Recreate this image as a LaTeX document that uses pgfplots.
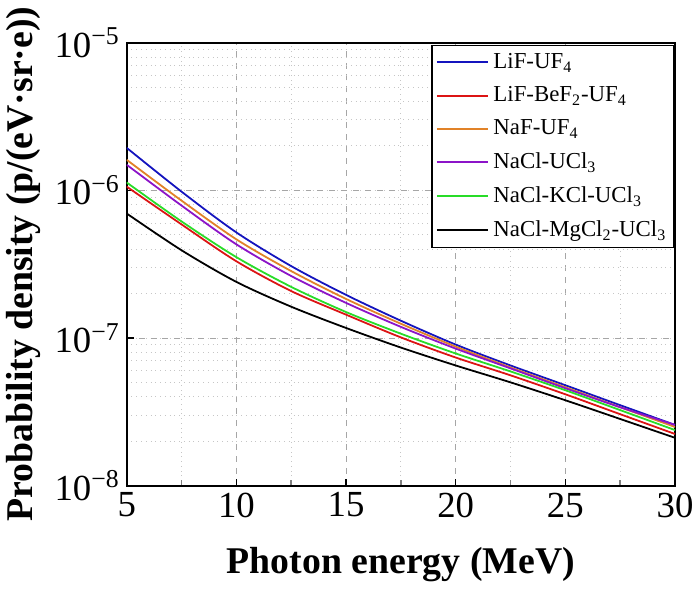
\documentclass[border=0pt]{standalone}
\usepackage{pgfplots}
\pgfplotsset{compat=1.18}
\usepackage{fontspec}
\setmainfont{Liberation Serif}
\definecolor{cblue}{RGB}{20,20,190}
\definecolor{cred}{RGB}{220,20,20}
\definecolor{corange}{RGB}{225,130,40}
\definecolor{cpurple}{RGB}{140,20,200}
\definecolor{cgreen}{RGB}{40,220,40}
\begin{document}
\begin{tikzpicture}
\begin{axis}[
  name=ax,
  scale only axis,
  width=276pt, height=223pt,
  ymode=log,
  xmin=5, xmax=30, ymin=1e-8, ymax=1e-5,
  axis line style={line width=1pt},
  xtick={5,10,15,20,25,30},
  xticklabels={5,10,15,20,25,30},
  minor xtick={7.5,12.5,17.5,22.5,27.5},
  ytick={1e-8,1e-7,1e-6,1e-5},
  yticklabels={10\textsuperscript{−8},10\textsuperscript{−7},10\textsuperscript{−6},10\textsuperscript{−5}},
  xtick pos=left, ytick pos=left,
  tick align=inside,
  major tick length=3.5pt,
  minor x tick style={line width=0.8pt},
  major tick style={line width=0.8pt, black},
  every minor y tick/.style={draw=none},
  grid=both,
  major grid style={dashed, gray!70, line width=0.5pt},
  minor grid style={dotted, gray!45, line width=0.5pt},
  ticklabel style={font=\fontsize{18.5}{21}\selectfont},
  xlabel={\textbf{Photon energy (MeV)}},
  ylabel={\textbf{Probability density (p/(eV·sr·e))}},
  label style={font=\fontsize{19}{22}\selectfont},
  xlabel style={yshift=-8pt},
  legend style={at={(1,1)}, anchor=north east, yshift=-1pt, draw=black, line width=0.8pt,
    font=\fontsize{11.5}{13}\selectfont, row sep=3.6pt, inner sep=2pt},
  legend cell align=left,
  legend image code/.code={\draw[#1, line width=1pt] (0pt,0pt) -- (26pt,0pt);},
  every axis plot/.append style={line width=0.9pt, smooth},
]
\addplot[cblue] coordinates {(5,1.94e-6) (7.5,9.80e-7) (10,5.19e-7) (12.5,3.07e-7) (15,1.96e-7) (17.5,1.31e-7) (20,9.03e-8) (22.5,6.52e-8) (25,4.79e-8) (27.5,3.51e-8) (30,2.58e-8)};
\addlegendentry{LiF-UF\textsubscript{4}}
\addplot[cred] coordinates {(5,1.06e-6) (7.5,5.88e-7) (10,3.31e-7) (12.5,2.08e-7) (15,1.44e-7) (17.5,1.01e-7) (20,7.38e-8) (22.5,5.59e-8) (25,4.16e-8) (27.5,3.05e-8) (30,2.24e-8)};
\addlegendentry{LiF-BeF\textsubscript{2}-UF\textsubscript{4}}
\addplot[corange] coordinates {(5,1.61e-6) (7.5,8.52e-7) (10,4.66e-7) (12.5,2.84e-7) (15,1.84e-7) (17.5,1.25e-7) (20,8.75e-8) (22.5,6.32e-8) (25,4.64e-8) (27.5,3.40e-8) (30,2.50e-8)};
\addlegendentry{NaF-UF\textsubscript{4}}
\addplot[cpurple] coordinates {(5,1.49e-6) (7.5,7.89e-7) (10,4.31e-7) (12.5,2.63e-7) (15,1.73e-7) (17.5,1.19e-7) (20,8.48e-8) (22.5,6.23e-8) (25,4.57e-8) (27.5,3.40e-8) (30,2.58e-8)};
\addlegendentry{NaCl-UCl\textsubscript{3}}
\addplot[cgreen] coordinates {(5,1.13e-6) (7.5,6.16e-7) (10,3.53e-7) (12.5,2.22e-7) (15,1.50e-7) (17.5,1.07e-7) (20,7.86e-8) (22.5,5.94e-8) (25,4.43e-8) (27.5,3.25e-8) (30,2.38e-8)};
\addlegendentry{NaCl-KCl-UCl\textsubscript{3}}
\addplot[black] coordinates {(5,6.97e-7) (7.5,3.93e-7) (10,2.40e-7) (12.5,1.63e-7) (15,1.17e-7) (17.5,8.62e-8) (20,6.52e-8) (22.5,5.01e-8) (25,3.79e-8) (27.5,2.83e-8) (30,2.11e-8)};
\addlegendentry{NaCl-MgCl\textsubscript{2}-UCl\textsubscript{3}}
\end{axis}
\path ([xshift=-62.5pt,yshift=-52.5pt]ax.south west) rectangle ([xshift=11.5pt,yshift=19pt]ax.north east);
\end{tikzpicture}
\end{document}
